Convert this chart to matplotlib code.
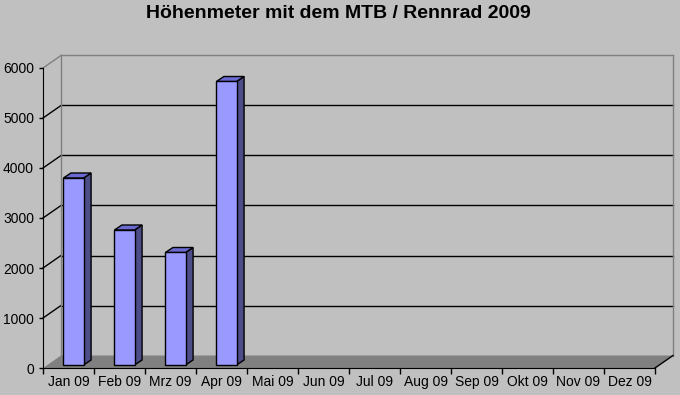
import matplotlib
matplotlib.use('Agg')
import matplotlib.pyplot as plt
import matplotlib.transforms as mtransforms
from matplotlib.patches import Polygon
from matplotlib.lines import Line2D

plt.rcParams['font.family'] = ['Liberation Sans', 'DejaVu Sans']

months = ['Jan 09', 'Feb 09', 'Mrz 09', 'Apr 09', 'Mai 09', 'Jun 09',
          'Jul 09', 'Aug 09', 'Sep 09', 'Okt 09', 'Nov 09', 'Dez 09']
hoehenmeter = [3740, 2700, 2250, 5670]
yticks = [0, 1000, 2000, 3000, 4000, 5000, 6000]
title = 'Höhenmeter mit dem MTB / Rennrad 2009'

bg = '#C0C0C0'
wall_dx, wall_dy = 18, 12.5      # depth of the chart box in pixels
front_dx, front_dy = 5, 3        # bar front face offset
bar_dx, bar_dy = 7.5, 5          # bar depth
bar_w = 0.395

fig = plt.figure(figsize=(6.8, 3.95), dpi=100, facecolor=bg)
ax = fig.add_axes([43 / 680, 27 / 395, 612 / 680, 300 / 395])
ax.set_facecolor('none')
ax.set_xlim(-0.5, len(months) - 0.5)
ax.set_ylim(0, 6000)
for s in ['top', 'right']:
    ax.spines[s].set_visible(False)
ax.spines['left'].set_color('black')
ax.spines['bottom'].set_color('black')
ax.spines['left'].set_zorder(6)
ax.spines['bottom'].set_zorder(6)

ax.set_yticks(yticks)
ax.set_yticklabels([str(v) for v in yticks])
ax.tick_params(axis='y', direction='out', length=3, width=1, pad=3.5,
               labelsize=10, colors='black')
ax.set_xticks([i - 0.5 for i in range(len(months) + 1)])
ax.set_xticklabels([])
ax.tick_params(axis='x', which='major', direction='out', length=4, width=1)
ax.set_xticks(range(len(months)), minor=True)
ax.set_xticklabels(months, minor=True)
ax.tick_params(axis='x', which='minor', length=0, pad=5, labelsize=10)

ident = mtransforms.IdentityTransform()


def px(x, y, dx=0, dy=0):
    p = ax.transData.transform((x, y))
    return (p[0] + dx, p[1] + dy)


def line(p0, p1, color, z=1):
    ax.add_line(Line2D([p0[0], p1[0]], [p0[1], p1[1]], color=color, lw=1,
                       transform=ident, clip_on=False, zorder=z))


x0, x1 = ax.get_xlim()
ymax = yticks[-1]

# floor
floor = [px(x0, 0), px(x1, 0), px(x1, 0, wall_dx, wall_dy), px(x0, 0, wall_dx, wall_dy)]
ax.add_patch(Polygon(floor, closed=True, facecolor='#808080', edgecolor='none',
                     transform=ident, clip_on=False, zorder=2))
line(px(x1, 0), px(x1, 0, wall_dx, wall_dy), 'black', 3)

# back wall gridlines and left wall diagonals
for v in yticks[1:-1]:
    line(px(x0, v, wall_dx, wall_dy), px(x1, v, wall_dx, wall_dy), 'black')
    line(px(x0, v), px(x0, v, wall_dx, wall_dy), 'black')

# wall borders
line(px(x0, 0, wall_dx, wall_dy), px(x0, ymax, wall_dx, wall_dy), '#808080')
line(px(x0, ymax, wall_dx, wall_dy), px(x1, ymax, wall_dx, wall_dy), '#808080')
line(px(x1, 0, wall_dx, wall_dy), px(x1, ymax, wall_dx, wall_dy), '#808080')
line(px(x0, ymax), px(x0, ymax, wall_dx, wall_dy), '#808080')

# 3d bars
for i, v in enumerate(hoehenmeter):
    l, r = i - bar_w / 2, i + bar_w / 2
    front = [px(l, 0, front_dx, front_dy), px(r, 0, front_dx, front_dy),
             px(r, v, front_dx, front_dy), px(l, v, front_dx, front_dy)]
    side = [px(r, 0, front_dx, front_dy), px(r, 0, front_dx + bar_dx, front_dy + bar_dy),
            px(r, v, front_dx + bar_dx, front_dy + bar_dy), px(r, v, front_dx, front_dy)]
    top = [px(l, v, front_dx, front_dy), px(r, v, front_dx, front_dy),
           px(r, v, front_dx + bar_dx, front_dy + bar_dy),
           px(l, v, front_dx + bar_dx, front_dy + bar_dy)]
    for poly, col in [(side, '#4D4D88'), (top, '#6A6AD0'), (front, '#9999FF')]:
        ax.add_patch(Polygon(poly, closed=True, facecolor=col, edgecolor='black',
                             lw=1, transform=ident, clip_on=False, zorder=4))

fig.text(338 / 680, 1 - 14 / 395, title, ha='center', va='center',
         fontsize=14, fontweight='bold', color='black')

fig.savefig('out.png', dpi=100, facecolor=bg)
